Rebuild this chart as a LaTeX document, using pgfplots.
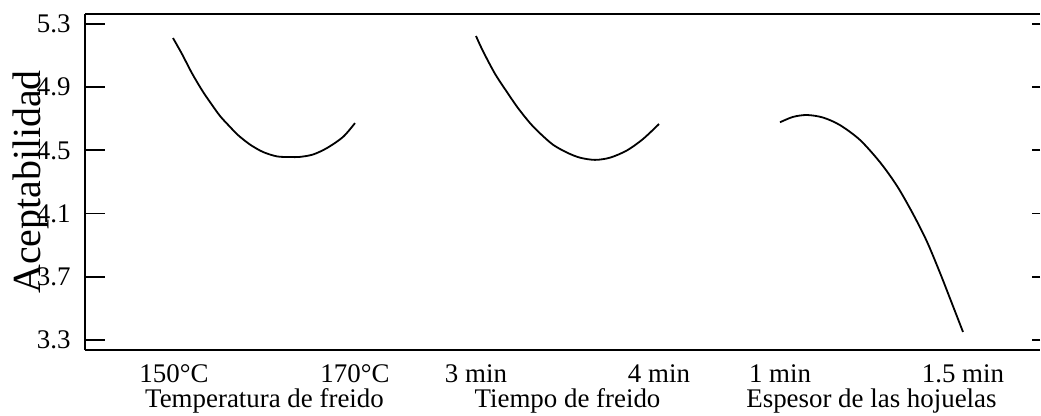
\documentclass[border=0pt]{standalone}
\usepackage{fontspec}
\setmainfont{Liberation Serif}
\usepackage{pgfplots}
\pgfplotsset{compat=1.18}
\begin{document}
\begin{tikzpicture}
\pgfplotsset{common/.style={at={(0,0)}, anchor=south west, scale only axis,
  width=955bp, height=336bp, xmin=85, xmax=1040, ymin=3.2367, ymax=5.3633,
  ytick={3.3,3.7,4.1,4.5,4.9,5.3}, tick align=inside}}
\begin{axis}[common,
  axis x line*=box, axis y line*=left,
  axis line style={line width=2bp, -},
  xtick={174,355,476,659,780,963},
  xticklabels={150°C,170°C,3 min,4 min,1 min,1.5 min},
  xtick style={draw=none},
  xticklabel style={font=\fontsize{27}{30}\selectfont, anchor=base, yshift=-32bp},
  yticklabels={3.3,3.7,4.1,4.5,4.9,5.3},
  ytick pos=left,
  ytick style={line width=1.8bp, black},
  major tick length=20bp,
  yticklabel style={font=\fontsize{27}{30}\selectfont, xshift=-11bp},
  ylabel={Aceptabilidad},
  every axis y label/.style={at={(axis description cs:0,0.5)}, xshift=-54bp, rotate=90, anchor=center, font=\fontsize{40}{43}\selectfont},
  clip=false]
\addplot[black, line width=1.8bp, smooth] coordinates {
(173,5.211) (182,5.110) (192,4.988) (202,4.881) (210,4.806) (220,4.718) (230,4.649) (238,4.597) (250,4.537) (263,4.490) (277,4.462) (290,4.458) (300,4.459) (313,4.474) (327,4.515) (343,4.585) (355,4.673)};
\addplot[black, line width=1.8bp, smooth] coordinates {
(476,5.224) (483,5.128) (495,4.985) (507,4.869) (518,4.768) (530,4.673) (540,4.608) (553,4.536) (567,4.486) (580,4.454) (595,4.440) (610,4.454) (627,4.500) (643,4.572) (659,4.667)};
\addplot[black, line width=1.8bp, smooth] coordinates {
(780,4.678) (793,4.712) (807,4.724) (823,4.708) (840,4.660) (860,4.566) (880,4.425) (897,4.275) (913,4.098) (927,3.922) (940,3.725) (950,3.563) (963,3.351)};
\node[anchor=base, font=\fontsize{27}{30}\selectfont] at ({axis cs:264.5,4}|-{rel axis cs:0,0}) [yshift=-57bp] {Temperatura de freido};
\node[anchor=base, font=\fontsize{27}{30}\selectfont] at ({axis cs:567.5,4}|-{rel axis cs:0,0}) [yshift=-57bp] {Tiempo de freido};
\node[anchor=base, font=\fontsize{27}{30}\selectfont] at ({axis cs:871.5,4}|-{rel axis cs:0,0}) [yshift=-57bp] {Espesor de las hojuelas};
\end{axis}
\begin{axis}[common,
  axis x line=none, axis y line*=right,
  y axis line style={draw=none},
  yticklabels={},
  ytick style={line width=1.8bp, black},
  major tick length=8bp]
\end{axis}
\pgfresetboundingbox
\path (-85bp,-66bp) rectangle (956bp,350bp);
\end{tikzpicture}
\end{document}
